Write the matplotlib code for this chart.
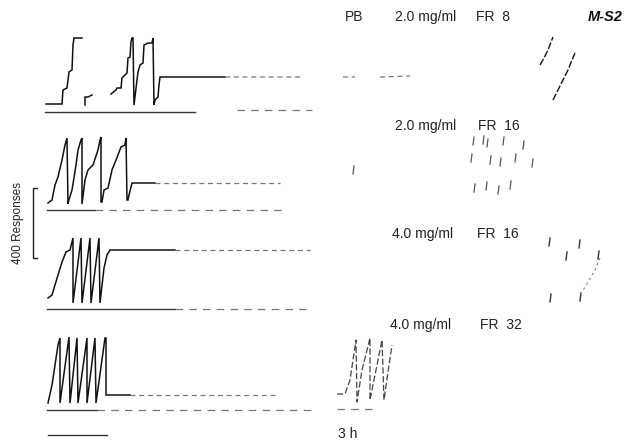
import numpy as np
import matplotlib
matplotlib.use("Agg")
import matplotlib.pyplot as plt

# ---- data (page coordinates: x = time position, y = pen position) ----
# Record 1: PB 2.0 mg/ml FR 8
rec1_x = [46, 62, 63, 67, 69, 72, 73, 74, 82, np.nan, 85, 85, 88, 92, np.nan,
          111, 116, 117, 121, 122, 127, 128, 130, 131, 132, 133, 134, 137, 138, 140, 143,
          144, 146, 148, 152, 153, 154, 155, 157, 158, 159, 160, 225]
rec1_y = [104, 104, 90, 88, 72, 70, 45, 38, 38, np.nan, 105, 97, 97, 95, np.nan,
          94, 90, 88, 88, 78, 73, 58, 57, 42, 38, 38, 105, 80, 72, 65, 63,
          45, 44, 43, 43, 38, 105, 100, 98, 97, 85, 77, 77]
rec1_tail_x = [225, 300, np.nan, 343, 355, np.nan, 380, 410]
rec1_tail_y = [77, 77, np.nan, 77, 77, np.nan, 77, 76]
rec1_event_x = [45, 195]
rec1_event_y = [112, 112]
rec1_event2_x = [237, 312]
rec1_event2_y = [110, 110]
rec1_side_x = [540, 544, 548, 551, 553, np.nan, 553, 558, 563, 568, 572, 575]
rec1_side_y = [65, 58, 50, 42, 37, np.nan, 100, 90, 80, 70, 60, 53]

# Record 2: 2.0 mg/ml FR 16
rec2_x = [48, 52, 55, 58, 62, 65, 67, 68, 68, 72, 76, 78, 81, 82, 82, 85, 88, 93, 98, 100,
          101, 101, 102, 104, 108, 112, 116, 121, 125, 126, 127, 128, 129, 132, 155]
rec2_y = [203, 200, 185, 177, 160, 145, 138, 204, 203, 190, 165, 150, 140, 138, 204, 180,
          170, 165, 150, 140, 137, 202, 202, 190, 188, 170, 160, 147, 145, 138, 200, 200,
          195, 183, 183]
rec2_tail_x = [155, 280]
rec2_tail_y = [183, 183]
rec2_event_x = [47, 95]
rec2_event_y = [210, 210]
rec2_event2_x = [95, 285]
rec2_event2_y = [210, 210]
rec2_marks_x = [473, 483, 487, 503, 523, 471, 490, 500, 515, 532, 474, 486, 498, 510,
                353]
rec2_marks_y = [141, 140, 143, 141, 145, 158, 160, 162, 158, 163, 188, 186, 190, 185,
                170]

# Record 3: 4.0 mg/ml FR 16
rec3_x = [48, 52, 58, 62, 66, 70, 73, 73, 81, 82, 90, 91, 99, 100, 104, 107, 110, 175]
rec3_y = [298, 295, 275, 262, 252, 250, 238, 303, 238, 303, 238, 303, 238, 303, 268,
          255, 250, 250]
rec3_tail_x = [175, 310]
rec3_tail_y = [250, 250]
rec3_event_x = [47, 175]
rec3_event_y = [309, 309]
rec3_event2_x = [175, 310]
rec3_event2_y = [309, 309]
rec3_marks_x = [549, 579, 598, 550, 580, 566]
rec3_marks_y = [242, 244, 255, 298, 297, 256]
rec3_diag_x = [600, 595, 588, 582]
rec3_diag_y = [258, 270, 282, 292]

# Record 4: 4.0 mg/ml FR 32
rec4_x = [48, 52, 58, 60, 60, 69, 70, 77, 78, 87, 87, 95, 96, 105, 106, 106, 130]
rec4_y = [403, 385, 345, 338, 403, 337, 403, 338, 403, 338, 403, 338, 403, 338, 338,
          395, 395]
rec4_tail_x = [130, 275]
rec4_tail_y = [395, 395]
rec4_event_x = [47, 97]
rec4_event_y = [410, 410]
rec4_event2_x = [97, 313]
rec4_event2_y = [410, 410]
rec4_right_x = [337, 345, 350, 356, 357, 362, 370, 370, 376, 382, 384, 388, 392]
rec4_right_y = [394, 394, 380, 340, 402, 370, 338, 400, 370, 340, 400, 372, 345]
rec4_right_event_x = [337, 376]
rec4_right_event_y = [409, 409]

# scale bars
time_bar_x = [48, 107]
time_bar_y = [435, 435]
resp_bar_x = [37, 33, 33, 37]
resp_bar_y = [188, 188, 258, 258]

labels = [
    ("PB", 345, 17), ("2.0 mg/ml", 395, 17), ("FR  8", 476, 17),
    ("2.0 mg/ml", 395, 126), ("FR  16", 478, 126),
    ("4.0 mg/ml", 392, 234), ("FR  16", 477, 234),
    ("4.0 mg/ml", 390, 325), ("FR  32", 480, 325),
]

# ---- drawing ----
fig = plt.figure(figsize=(6.33, 4.40), dpi=100)
ax = fig.add_axes([0, 0, 1, 1])
ax.set_xlim(0, 633)
ax.set_ylim(440, 0)
ax.axis("off")

ink = "#111111"
faint = "#777777"
dash = (0, (4, 3))

for xs, ys in [(rec1_x, rec1_y), (rec2_x, rec2_y), (rec3_x, rec3_y), (rec4_x, rec4_y)]:
    ax.plot(xs, ys, color=ink, lw=1.1, solid_joinstyle="miter")

for xs, ys in [(rec1_tail_x, rec1_tail_y), (rec2_tail_x, rec2_tail_y),
               (rec3_tail_x, rec3_tail_y), (rec4_tail_x, rec4_tail_y)]:
    ax.plot(xs, ys, color=faint, lw=0.9, ls=dash)

for xs, ys in [(rec1_event_x, rec1_event_y), (rec2_event_x, rec2_event_y),
               (rec3_event_x, rec3_event_y), (rec4_event_x, rec4_event_y)]:
    ax.plot(xs, ys, color="#333333", lw=1.0)

for xs, ys in [(rec1_event2_x, rec1_event2_y), (rec2_event2_x, rec2_event2_y),
               (rec3_event2_x, rec3_event2_y), (rec4_event2_x, rec4_event2_y),
               (rec4_right_event_x, rec4_right_event_y)]:
    ax.plot(xs, ys, color=faint, lw=0.9, ls=(0, (6, 5)))

ax.plot(rec1_side_x, rec1_side_y, color=ink, lw=1.0, ls=(0, (5, 1.5)))
ax.plot(rec4_right_x, rec4_right_y, color="#444444", lw=0.9, ls=(0, (5, 2)))
ax.plot(rec3_diag_x, rec3_diag_y, color=faint, lw=0.8, ls=(0, (2, 3)))

for mx, my in zip(rec2_marks_x, rec2_marks_y):
    ax.plot([mx, mx + 1], [my + 4, my - 4], color="#555555", lw=0.9)
for mx, my in zip(rec3_marks_x, rec3_marks_y):
    ax.plot([mx, mx + 1], [my + 4, my - 4], color="#333333", lw=1.0)

ax.plot(time_bar_x, time_bar_y, color="#333333", lw=1.0)
ax.plot(resp_bar_x, resp_bar_y, color="#222222", lw=1.0)

font = "Liberation Sans"
for txt, x, y in labels:
    ax.text(x, y, txt, fontsize=10, family=font, color="#222222", va="center", ha="left")
ax.text(588, 17, "M-S2", fontsize=10.5, family=font, style="italic", weight="bold",
        color="#111111", va="center", ha="left")
ax.text(338, 434, "3 h", fontsize=10, family=font, color="#222222", va="center", ha="left")
ax.text(18, 223, "400 Responses", fontsize=8.5, family=font, color="#222222",
        rotation=90, va="center", ha="center")

fig.savefig("out.png", dpi=100, facecolor="white")
